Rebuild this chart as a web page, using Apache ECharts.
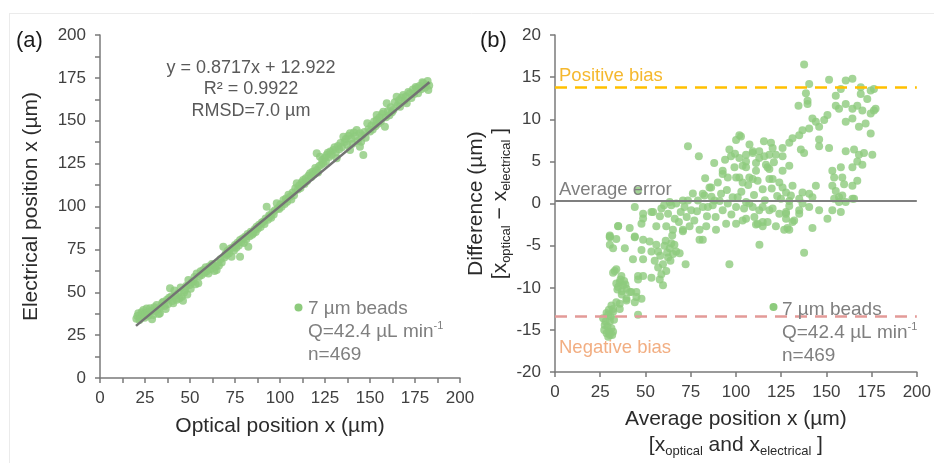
<!DOCTYPE html>
<html><head><meta charset="utf-8">
<script src="https://cdn.jsdelivr.net/npm/echarts/dist/echarts.min.js"></script>
<style>html,body{margin:0;padding:0;background:#fff}#c{width:934px;height:463px}</style>
</head><body><div id="c"></div>
<script>
// ---------- data ----------
const axisXRange = [0, 200];
const axisYLeftRange = [0, 200];
const axisYRightRange = [-20, 20];
const trendLine = [[20, 30.4], [183, 172.4]];
const positiveBias = 13.8;
const averageError = 0.29;
const negativeBias = -13.43;

const leftPoints = [[20.2,34.5],[20.8,36.2],[21.3,37.7],[21.9,33.8],[22.5,35.6],[23.1,38.4],[23.6,36.9],[24.1,39.7],[24.8,35.2],[25.3,37.9],[25.9,40.5],[26.4,38.1],[27.0,36.4],[27.8,40.6],[28.3,38.9],[28.9,34.2],[29.6,36.7],[30.2,41.2],[30.8,39.0],[31.5,42.6],[32.1,40.1],[32.7,37.3],[33.3,37.7],[33.9,41.8],[34.6,43.9],[35.2,44.5],[35.9,42.0],[36.5,40.3],[37.2,45.6],[37.8,43.1],[38.4,46.8],[38.9,52.3],[39.6,47.5],[40.2,44.9],[40.7,43.6],[41.3,51.0],[41.9,48.2],[42.6,45.6],[43.5,49.4],[44.1,46.3],[44.8,52.8],[45.4,47.4],[46.1,45.1],[46.7,49.9],[47.2,51.3],[47.9,53.6],[48.5,48.7],[49.1,57.1],[49.8,54.2],[50.4,52.0],[51.0,55.8],[51.9,56.2],[52.5,58.9],[53.1,54.7],[53.7,61.0],[54.6,55.2],[55.2,59.4],[55.9,62.3],[56.5,60.1],[57.4,63.0],[58.0,61.4],[58.7,64.6],[59.3,62.2],[60.2,61.0],[60.8,65.1],[61.5,63.6],[62.2,66.5],[62.9,65.9],[63.6,62.4],[64.2,64.9],[64.8,63.0],[65.5,67.3],[66.1,65.6],[66.9,69.2],[67.6,67.4],[68.5,76.6],[69.1,70.3],[69.8,72.5],[70.4,71.7],[71.0,74.2],[71.7,72.8],[72.4,75.5],[73.1,70.7],[73.8,76.1],[74.4,74.3],[75.0,77.6],[75.7,75.9],[76.4,78.8],[77.1,77.2],[77.8,70.7],[77.8,80.5],[78.5,79.1],[79.2,81.3],[79.9,78.7],[80.6,82.4],[81.3,80.9],[82.0,84.0],[82.4,76.6],[83.1,82.6],[83.8,85.3],[84.5,83.5],[85.2,84.4],[85.9,86.7],[86.5,85.2],[87.0,88.2],[87.7,87.0],[88.4,89.4],[89.2,88.1],[89.9,90.6],[90.7,91.1],[91.4,89.8],[92.0,93.0],[92.6,99.9],[93.3,92.3],[94.0,94.9],[94.4,94.1],[95.1,93.5],[95.8,96.6],[96.5,95.4],[97.2,97.8],[98.2,101.9],[98.8,99.0],[99.5,98.6],[100.2,101.1],[100.9,99.8],[101.9,103.8],[102.6,101.5],[103.3,104.6],[104.0,102.8],[104.7,106.9],[105.6,105.7],[106.3,104.1],[107.0,108.2],[107.8,106.5],[108.5,110.6],[109.3,113.5],[110.0,109.9],[110.7,112.3],[111.4,110.8],[112.1,114.2],[112.9,115.5],[113.6,113.1],[114.3,116.4],[115.0,114.8],[115.8,118.0],[116.7,119.4],[117.4,117.2],[118.1,120.3],[118.8,118.6],[119.6,122.4],[120.4,121.3],[120.4,131.0],[121.1,119.8],[121.8,123.6],[122.2,129.0],[122.9,124.3],[123.5,127.1],[124.1,125.2],[124.8,128.3],[125.5,126.2],[125.9,130.0],[126.6,131.4],[127.3,128.8],[128.0,132.1],[128.7,130.2],[129.6,132.9],[130.3,134.6],[131.0,131.5],[131.5,128.1],[132.2,135.3],[132.9,133.4],[133.6,137.0],[134.4,134.5],[135.2,140.7],[135.9,137.6],[136.6,139.3],[137.3,136.0],[138.0,141.2],[138.9,142.7],[138.9,132.9],[139.6,139.5],[140.3,136.6],[141.0,143.2],[141.8,140.9],[142.6,144.6],[143.3,138.2],[144.4,142.7],[144.4,134.9],[145.1,137.8],[145.8,141.6],[146.3,130.0],[146.9,143.4],[147.6,140.1],[148.5,148.5],[149.2,145.0],[150.0,143.7],[150.8,147.2],[151.5,144.9],[152.3,149.6],[153.0,146.8],[153.7,150.4],[153.7,153.4],[154.5,148.2],[155.3,151.9],[156.0,149.5],[156.7,154.0],[157.4,155.3],[158.3,146.5],[158.9,152.1],[159.3,160.2],[160.0,155.7],[160.8,153.2],[161.5,157.9],[162.2,155.0],[163.0,156.3],[163.8,160.8],[164.8,164.0],[165.5,159.2],[166.2,162.0],[166.7,158.2],[167.5,163.5],[168.5,165.0],[169.2,161.6],[170.0,164.1],[170.4,160.2],[171.3,166.8],[172.2,166.0],[173.0,163.2],[173.8,168.2],[174.6,165.6],[175.4,169.7],[175.9,168.9],[176.7,166.1],[177.5,170.3],[178.4,168.4],[179.1,172.5],[179.6,171.8],[180.5,169.2],[181.3,171.0],[182.0,173.2],[182.4,167.9],[182.9,170.6]];

const rightPoints = [[44.1,-0.4],[54.2,-1.0],[48.7,-1.77],[34.9,-2.66],[41.3,-2.9],[30.3,-4.0],[33.9,-4.2],[38.6,-5.3],[32.1,-5.3],[44.1,-4.0],[35.8,-9.35],[33,-8.0],[45.9,-8.6],[59.7,-9.7],[57.9,-9.0],[53.3,-8.8],[42.2,-10.5],[45,-10.5],[47.8,-11.3],[44.1,-11.7],[39.5,-11.5],[35.8,-11.9],[32.1,-12.5],[35.8,-12.5],[45.9,-13.2],[29.4,-13.2],[30.3,-15.6],
[30.3,-3.9],[30.3,-4.9],[44.1,-3.9],[48.7,-4.3],[52.3,-4.5],[47.8,-5.5],[53.3,-5.7],[57,-5.7],[43.1,-6.6],[48.7,-6.6],[55.1,-6.8],[57,-7.6],[59.7,-7.2],[58.8,-8.4],[61.5,-8.0],[63.4,-5.3],[65.2,-6.0],[67,-5.7],[62.5,-6.4],[64.3,-4.7],[68.9,-5.9],[72.2,-7.2],[70.7,-3.3],[79.9,-4.3],[81.7,-4.3],[89,-3.1],[96.4,-7.2],[113,-4.9],[129.5,-3.1],[137.7,-5.85],[142.3,-2.9],[48.7,-8.6],[45.9,-9.0],[33.9,-7.8],[32.1,-8.2],[36.7,-8.6],[37.6,-9.7],[34.9,-9.9],[39.5,-10.1],[33.9,-9.5],[41.3,-10.5],[45,-11.1],[39.5,-11.3],[33.9,-11.7],[31.2,-12.1],[28.5,-13.0],[32.1,-12.85],[26.6,-13.6],[30.3,-14.0],[27.5,-14.4],[31.2,-14.8],[28.5,-15.4],[32.1,-15.2],[29.4,-15.8],
[36.2,-9.0],[37.0,-10.4],[38.2,-9.2],[36.9,-10.8],[34.5,-10.2],[38.9,-9.6],[29.0,-14.6],[30.8,-13.4],[28.0,-14.0],[31.6,-15.6],[29.8,-12.6],[27.2,-15.0],[32.6,-13.8],[30.0,-15.2],[60.5,-5.0],[62.0,-5.8],[63.8,-6.8],[61.2,-4.4],[66.0,-4.9],[64.8,-3.8],[58.2,-6.2],[56.0,-4.9],
[73.5,6.8],[79.5,5.6],[101.9,8.1],[96.4,6.4],[92.7,3.9],[90,2.5],[85.4,1.9],[81.7,1.15],[109.3,6.0],[105.6,5.0],[103.7,4.5],[111.1,3.9],[112.9,5.4],[118.5,5.8],[117.5,4.3],[120.3,2.9],[125.8,3.9],[114.8,1.7],[109.3,2.9],[100.1,3.1],[98.2,0.76],[70.7,0.37],[67,0],[63.4,0.17],[60.3,-0.2],[53.3,-1.0],[48.7,-1.2],[47.8,-2.4],[34.9,-2.7],[30.3,-3.8],[75.3,-0.8],[81.7,-0.4],[87.2,-0.2],[92.7,-0.8],[100.1,-0.4],[107.4,0],[112.9,-0.8],[118.5,-0.8],[129.5,0.3],[136.8,0],[142.3,0.76],[146,-0.8],[150.6,-1.8],[153.3,-0.8],[157,0.76],[135,-1.2],[127.7,-1.8],[126.7,-3.1],[122.1,-2.7],[114.8,-2.7],[111.1,-2.5],[105.6,-1.8],[100.1,-2.4],[94.6,-2.4],[83.6,-2.7],[79.9,-3.1],[74.4,-2.7],[70.7,-3.1],[65.2,-3.1],[61.5,-2.7],[56,-2.7],
[58.0,-1.5],[62.5,-1.2],[66.2,-1.8],[69.5,-1.0],[72.8,-1.6],[77.0,-2.0],[78.5,-0.9],[84.0,-1.5],[86.5,0.8],[88.8,-1.6],[91.0,0.3],[95.0,1.6],[97.5,-1.3],[103.0,1.4],[104.5,-0.6],[106.8,2.2],[110.0,1.0],[116.0,0.4],[119.8,1.8],[122.8,0.9],[124.0,-1.2],[88.0,4.8],[94.0,5.2],[99.5,5.9],[107.5,7.0],[115.5,7.4],[121.0,4.9],[68.5,-2.2],[76.2,1.2],[83.0,3.0],
[102.8,7.95],[100.1,7.55],[97.3,5.6],[92.7,3.5],[86.3,1.9],[82.6,0.95],[79,0.37],[73.5,0.37],[71.6,-0.4],[64.3,-0.2],[58.8,-0.6],[45.9,1.54],[99.2,4.3],[101.9,3.1],[95.5,3.1],[88.2,0.37],[91.8,1.15],[101,0.76],[95.5,0],[84.5,-0.4],
[140.5,14.2],[151.5,14.7],[160.7,14.6],[164.4,14.8],[138.7,13.1],[139.6,12.2],[139.6,11.8],[134.6,11.6],[155.2,12.8],[158,13.6],[169,13.8],[169,13.0],[174.5,13.4],[172.6,12.4],[155.2,11.6],[157,11.25],[160.7,11.8],[164.4,11.25],[167.1,11.6],[169.9,11.05],[164.4,10.1],[160.7,9.7],[168,9.1],[171.7,9.5],[176.3,11.05],[174.5,8.3],[150.6,10.5],[148.8,9.9],[146,9.1],[142.3,10.1],[144.2,9.7],[140.5,8.9],[136.8,8.7],[135,8.1],[131.3,7.75],[129.5,7.2],[125.8,6.6],[135.9,6.4],[137.7,6.0],[146,7.6],[146,6.8],[151.5,6.6],[119.4,7.2],[120.3,6.6],[112.9,6.2],[109.3,6.2],[105.6,5.8],[101.9,5.4],[115.7,5.6],[125.8,5.6],[122.1,5.8],[111.1,4.8],[116.6,4.6],[105.6,4.3],[129.5,4.5],[118.5,4.1],[107.4,3.1],[112,2.7],[118.5,2.9],[103.7,2.5],[124,2.5],[125.8,1.9],[131.3,2.1],[127.7,1.3],[130.4,0.95],[136.8,1.3],[140.5,1.15],[144.2,2.1],[135,0.56],[124.9,0.56],[129.5,-0.3],[105.6,0.17],[109.3,-0.4],[114.8,-0.4],[120.3,-0.6],[127.7,-1.2],[135,-0.8],[140.5,-0.4],[132.2,-2.0],[110.2,-1.6],[114.8,-2.2],[160.7,6.2],[165.3,6.4],[168,5.8],[170.8,6.0],[175.4,5.8],[167.1,5.0],[169.9,4.6],[164.4,4.3],[158,4.3],[153.3,3.9],[154.3,3.1],[158.8,3.1],[167.1,2.7],[153.3,2.1],[155.2,1.5],[159.8,2.3],[164.4,2.1],[158.8,0.95],[165.3,0.56],[160.7,0.17],[157,0.17],[154.3,0.56],
[137.7,16.5],[176.3,13.6],[177.2,11.25],[174.5,10.7],
[158,-1.0],[164.4,0.56],[127.7,-1.0],[131.3,-2.2],[128.5,-2.9],[117.5,-2.2],[112,-2.4],[103.7,-2.0]];

// ---------- styles ----------
const FONT = '"Liberation Sans", Arial, sans-serif';
const GREEN = '#8dcb7d';
const AXIS = '#7a7a7a';
const TICKTXT = '#404040';
const TITLE = '#2b2b2b';

function xAx(gi, name, gap, rich) {
  return {
    type: 'value', gridIndex: gi, min: axisXRange[0], max: axisXRange[1], interval: 25,
    axisLine: { show: true, onZero: false, lineStyle: { color: AXIS, width: 1.5 } },
    axisTick: { show: true, length: 5, lineStyle: { color: AXIS, width: 1.5 } },
    minorTick: { show: gi === 0, splitNumber: 2, length: 5, lineStyle: { color: AXIS, width: 1.5 } },
    splitLine: { show: false },
    axisLabel: { color: TICKTXT, fontSize: 17, fontFamily: FONT, margin: 12 },
    name: name, nameLocation: 'middle', nameGap: gap,
    nameTextStyle: { color: TITLE, fontSize: 21, fontFamily: FONT, lineHeight: 26, rich: rich }
  };
}
function yAx(gi, range, interval, name, gap, rich) {
  return {
    type: 'value', gridIndex: gi, min: range[0], max: range[1], interval: interval,
    axisLine: { show: true, onZero: false, lineStyle: { color: AXIS, width: 1.5 } },
    axisTick: { show: true, length: 5, lineStyle: { color: AXIS, width: 1.5 } },
    minorTick: { show: gi === 0, splitNumber: 2, length: 5, lineStyle: { color: AXIS, width: 1.5 } },
    splitLine: { show: false },
    axisLabel: { color: TICKTXT, fontSize: 17, fontFamily: FONT, margin: 14 },
    name: name, nameLocation: 'middle', nameGap: gap,
    nameTextStyle: { color: TITLE, fontSize: 21, fontFamily: FONT, lineHeight: 24, rich: rich }
  };
}
const subRich = {
  sub: { fontSize: 13, fontFamily: FONT, color: TITLE, verticalAlign: 'bottom', lineHeight: 14 }
};

const chart = echarts.init(document.getElementById('c'));
function txt(x, y, text, color, size, align, extra) {
  return { type: 'text', x: x, y: y, z: 10, style: Object.assign({
    text: text, fill: color, fontSize: size, fontFamily: FONT,
    textAlign: align || 'left', textVerticalAlign: 'middle' }, extra || {}) };
}
const legendText = '7 µm beads\nQ=42.4 µL min{sup|-1}\nn=469';
const legendRich = { sup: { fontSize: 11, fontFamily: FONT, fill: '#7f7f7f', verticalAlign: 'top', lineHeight: 16 } };

chart.setOption({
  animation: false,
  backgroundColor: '#ffffff',
  grid: [
    { left: 100, top: 35, width: 360, height: 343 },
    { left: 555, top: 35, width: 363, height: 343 }
  ],
  xAxis: [
    xAx(0, 'Optical position x (µm)', 35),
    xAx(1, 'Average position x (µm)\n[x{sub|optical} and x{sub|electrical} ]', 32, subRich)
  ],
  yAxis: [
    yAx(0, axisYLeftRange, 25, 'Electrical position x (µm)', 57),
    yAx(1, axisYRightRange, 5, 'Difference (µm)\n[x{sub|optical} − x{sub|electrical} ]', 40, subRich)
  ],
  series: [
    { type: 'scatter', xAxisIndex: 0, yAxisIndex: 0, data: leftPoints, symbolSize: 8,
      itemStyle: { color: GREEN }, z: 2 },
    { type: 'line', xAxisIndex: 0, yAxisIndex: 0, data: trendLine, showSymbol: false, symbol: 'none',
      lineStyle: { color: '#737373', width: 2.5 }, z: 3 },
    { type: 'line', xAxisIndex: 1, yAxisIndex: 1, data: [], z: 1,
      markLine: { silent: true, symbol: 'none', label: { show: false }, animation: false,
        data: [
          { yAxis: positiveBias, lineStyle: { color: '#FFC000', width: 2.5, type: [12, 8] } },
          { yAxis: averageError, lineStyle: { color: '#7f7f7f', width: 2, type: 'solid' } },
          { yAxis: negativeBias, lineStyle: { color: '#E39A98', width: 2.5, type: [12, 8] } }
        ] } },
    { type: 'scatter', xAxisIndex: 1, yAxisIndex: 1, data: rightPoints, symbolSize: 8,
      itemStyle: { color: GREEN }, z: 2 }
  ],
  graphic: [
    { type: 'line', shape: { x1: 9, y1: 13.5, x2: 934, y2: 13.5 }, style: { stroke: '#ebebeb', lineWidth: 1 } },
    { type: 'line', shape: { x1: 9.5, y1: 13, x2: 9.5, y2: 463 }, style: { stroke: '#ebebeb', lineWidth: 1 } },
    txt(16, 41, '(a)', '#1a1a1a', 22),
    txt(480, 41, '(b)', '#1a1a1a', 22),
    { type: 'text', x: 251, y: 57, z: 10, style: { text: 'y = 0.8717x + 12.922\nR² = 0.9922\nRMSD=7.0 µm',
      fill: '#595959', fontSize: 18, fontFamily: FONT, textAlign: 'center', textVerticalAlign: 'top', lineHeight: 21.5 } },
    { type: 'circle', shape: { cx: 298.5, cy: 307.5, r: 4 }, style: { fill: GREEN }, z: 10 },
    { type: 'text', x: 308, y: 297, z: 10, style: { text: legendText, rich: legendRich,
      fill: '#7f7f7f', fontSize: 19, fontFamily: FONT, textAlign: 'left', textVerticalAlign: 'top', lineHeight: 23 } },
    { type: 'circle', shape: { cx: 773.5, cy: 307, r: 4 }, style: { fill: GREEN }, z: 10 },
    { type: 'text', x: 782, y: 298, z: 10, style: { text: legendText, rich: legendRich,
      fill: '#7f7f7f', fontSize: 19, fontFamily: FONT, textAlign: 'left', textVerticalAlign: 'top', lineHeight: 23 } },
    txt(559, 76, 'Positive bias', '#F5B82E', 18.5),
    txt(559, 190, 'Average error', '#7f7f7f', 18.5),
    txt(559, 348, 'Negative bias', '#F2AE82', 18.5)
  ]
});
</script></body></html>
